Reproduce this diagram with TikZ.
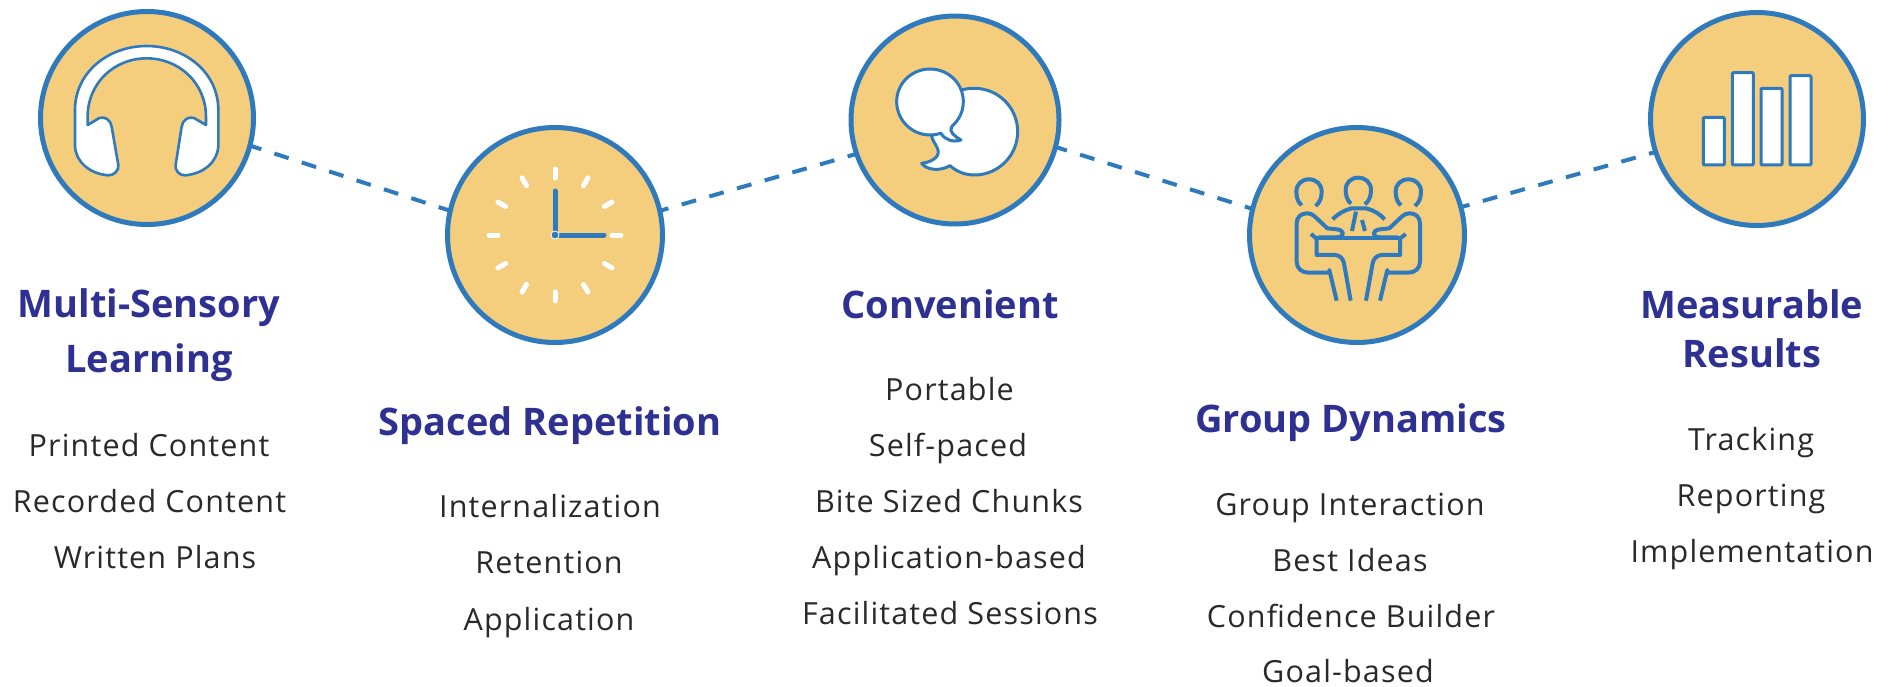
\documentclass[tikz,border=0pt]{standalone}
\usepackage{fontspec}
\newfontfamily\headf{Open Sans}
\newfontfamily\itemf[LetterSpace=3.8]{Open Sans}
\definecolor{disk}{HTML}{F4CD7D}
\definecolor{ring}{HTML}{2E7ABD}
\definecolor{headc}{HTML}{2E3192}
\definecolor{itemc}{HTML}{2B2829}
\tikzset{
  disc/.style={circle,draw=ring,fill=disk,line width=5pt,inner sep=0pt,outer sep=0pt,minimum size=#1},
  link/.style={draw=ring,line width=4pt,dash pattern=on 15pt off 13.8pt},
  headtxt/.style={anchor=base,inner sep=0pt,text=headc,font=\headf\fontsize{38}{38}\selectfont\bfseries},
  itemtxt/.style={anchor=base,inner sep=0pt,text=itemc,font=\itemf\fontsize{30.5}{30.5}\selectfont},
  icon/.style={draw=ring,line width=3pt,line join=round,fill=white},
  iconline/.style={draw=ring,line width=4pt,line join=round,fill=none},
  tick/.style={draw=white,line width=5pt,line cap=round},
  hand/.style={draw=ring,line width=5pt,line cap=round}
}
\begin{document}
\begin{tikzpicture}[x=1pt,y=-1pt]
\useasboundingbox (0,0) rectangle (1889,686);
% discs
\node[disc=213pt] (c1) at (147,118) {};
\node[disc=215pt] (c2) at (555,235) {};
\node[disc=208pt] (c3) at (955,120) {};
\node[disc=215pt] (c4) at (1357,235) {};
\node[disc=213pt] (c5) at (1757,119) {};
% connectors
\draw[link,dash phase=3pt] (c1.-15) -- (c2.167);
\draw[link,dash phase=6pt] (c2.13) -- (c3.199);
\draw[link,dash phase=3pt] (c3.-15) -- (c4.166);
\draw[link,dash phase=6pt] (c4.15) -- (c5.198.6);
% headphones
\begin{scope}[shift={(20,0)},x=0.3333pt,y=-0.3333pt]
\path[icon,line width=2.6pt] (165,440) -- (165,330) .. controls (165,216) and (266,138) .. (380,138)
 .. controls (494,138) and (595,216) .. (595,330) -- (595,440)
 .. controls (590,490) and (550,520) .. (497,526)
 .. controls (478,528) and (464,510) .. (467,495) -- (485,380)
 .. controls (488,360) and (505,348) .. (522,354) -- (558,375) -- (558,350)
 .. controls (558,250) and (478,175) .. (380,175) .. controls (282,175) and (203,250) .. (203,350)
 -- (203,375) -- (238,354) .. controls (255,348) and (272,360) .. (275,380) -- (295,495)
 .. controls (298,510) and (282,528) .. (263,526) .. controls (210,520) and (170,490) .. (165,440) -- cycle;
\end{scope}
% clock
\begin{scope}[shift={(555,235)}]
\foreach \a in {0,30,...,330}
  \draw[tick] (\a:57) -- (\a:66);
\draw[hand] (0,0) -- (0,-44);
\draw[hand] (0,0) -- (49,0);
\fill[ring,draw=white,line width=0.8pt] (0,0) circle (4);
\end{scope}
% speech bubbles
\begin{scope}[shift={(840,0)},x=0.3333pt,y=-0.3333pt]
\path[icon] (275,410) .. controls (280,430) and (305,450) .. (290,470) .. controls (280,482) and (262,488) .. (245,490)
 .. controls (258,510) and (300,515) .. (330,497) .. controls (350,515) and (375,525) .. (403,525)
 .. controls (475,525) and (533,467) .. (533,395) .. controls (533,323) and (475,265) .. (403,265)
 .. controls (390,265) and (378,266) .. (365,270) -- cycle;
\path[icon] (335,380) .. controls (357,360) and (370,335) .. (370,305) .. controls (370,250) and (325,207) .. (270,207)
 .. controls (215,207) and (170,250) .. (170,305) .. controls (170,360) and (215,405) .. (270,405)
 .. controls (282,405) and (292,403) .. (303,400) .. controls (315,420) and (340,428) .. (363,420)
 .. controls (345,410) and (325,395) .. (335,380) -- cycle;
\end{scope}
% meeting
\begin{scope}[shift={(1240,120)},x=0.3333pt,y=-0.3333pt]
\foreach \hx/\hy in {207/215,355/210,505/215}
  \draw[iconline,shift={(\hx,\hy)}] (-22,41) .. controls (-33,32) and (-38,18) .. (-38,0)
    .. controls (-38,-22) and (-22,-37) .. (0,-37) .. controls (22,-37) and (38,-22) .. (38,0)
    .. controls (38,18) and (33,32) .. (20,43);
\foreach \flip/\ox in {1/0,-1/710}{
\begin{scope}[shift={(\ox,0)},xscale=\flip]
\draw[iconline] (290,542) -- (268,450) -- (268,458) -- (205,458)
  .. controls (185,458) and (170,445) .. (170,425) -- (170,310)
  .. controls (170,292) and (183,280) .. (200,280) .. controls (212,280) and (220,285) .. (228,293)
  -- (262,325) -- (290,328) .. controls (315,330) and (315,352) .. (290,352) -- (235,352);
\draw[iconline] (213,342) -- (235,360);
\draw[iconline] (230,355) -- (230,405) -- (285,405) .. controls (300,405) and (310,418) .. (312,430) -- (332,542);
\end{scope}}
\draw[iconline] (230,355) -- (480,355);
\draw[iconline] (278,298) .. controls (295,280) and (315,270) .. (335,265) -- (378,265) .. controls (400,270) and (420,282) .. (434,298);
\draw[iconline] (348,275) -- (336,333);
\draw[iconline] (366,300) -- (375,333);
\end{scope}
% bars
\begin{scope}[shift={(1640,0)},x=0.3333pt,y=-0.3333pt]
\path[icon,rounded corners=1pt] (190,352) rectangle (253,495);
\path[icon,rounded corners=1pt] (277,218) rectangle (340,495);
\path[icon,rounded corners=1pt] (363,265) rectangle (426,495);
\path[icon,rounded corners=1pt] (450,227) rectangle (513,495);
\end{scope}
% column 1
\node[headtxt] (h1a) at (149,317) {Multi-Sensory};
\node[headtxt] (h1b) at (149,372) {Learning};
\node[itemtxt] (t1a) at (149,456) {Printed Content};
\node[itemtxt] (t1b) at (149.5,512) {Recorded Content};
\node[itemtxt] (t1c) at (155,568) {Written Plans};
% column 2
\node[headtxt] (h2a) at (550,435) {Spaced Repetition};
\node[itemtxt] (t2a) at (550,517) {Internalization};
\node[itemtxt] (t2b) at (549,573) {Retention};
\node[itemtxt] (t2c) at (549,630) {Application};
% column 3
\node[headtxt] (h3a) at (950,318) {Convenient};
\node[itemtxt] (t3a) at (949.5,400) {Portable};
\node[itemtxt] (t3b) at (948,456) {Self-paced};
\node[itemtxt] (t3c) at (949,512) {Bite Sized Chunks};
\node[itemtxt] (t3d) at (949,568) {Application-based};
\node[itemtxt] (t3e) at (950,624) {Facilitated Sessions};
% column 4
\node[headtxt] (h4a) at (1351,432) {Group Dynamics};
\node[itemtxt] (t4a) at (1350,515) {Group Interaction};
\node[itemtxt] (t4b) at (1350,571) {Best Ideas};
\node[itemtxt] (t4c) at (1351,627) {Confidence Builder};
\node[itemtxt] (t4d) at (1348,682) {Goal-based};
% column 5
\node[headtxt] (h5a) at (1752,318) {Measurable};
\node[headtxt] (h5b) at (1752,367) {Results};
\node[itemtxt] (t5a) at (1751,450) {Tracking};
\node[itemtxt] (t5b) at (1751,506) {Reporting};
\node[itemtxt] (t5c) at (1752,562) {Implementation};
\end{tikzpicture}
\end{document}
